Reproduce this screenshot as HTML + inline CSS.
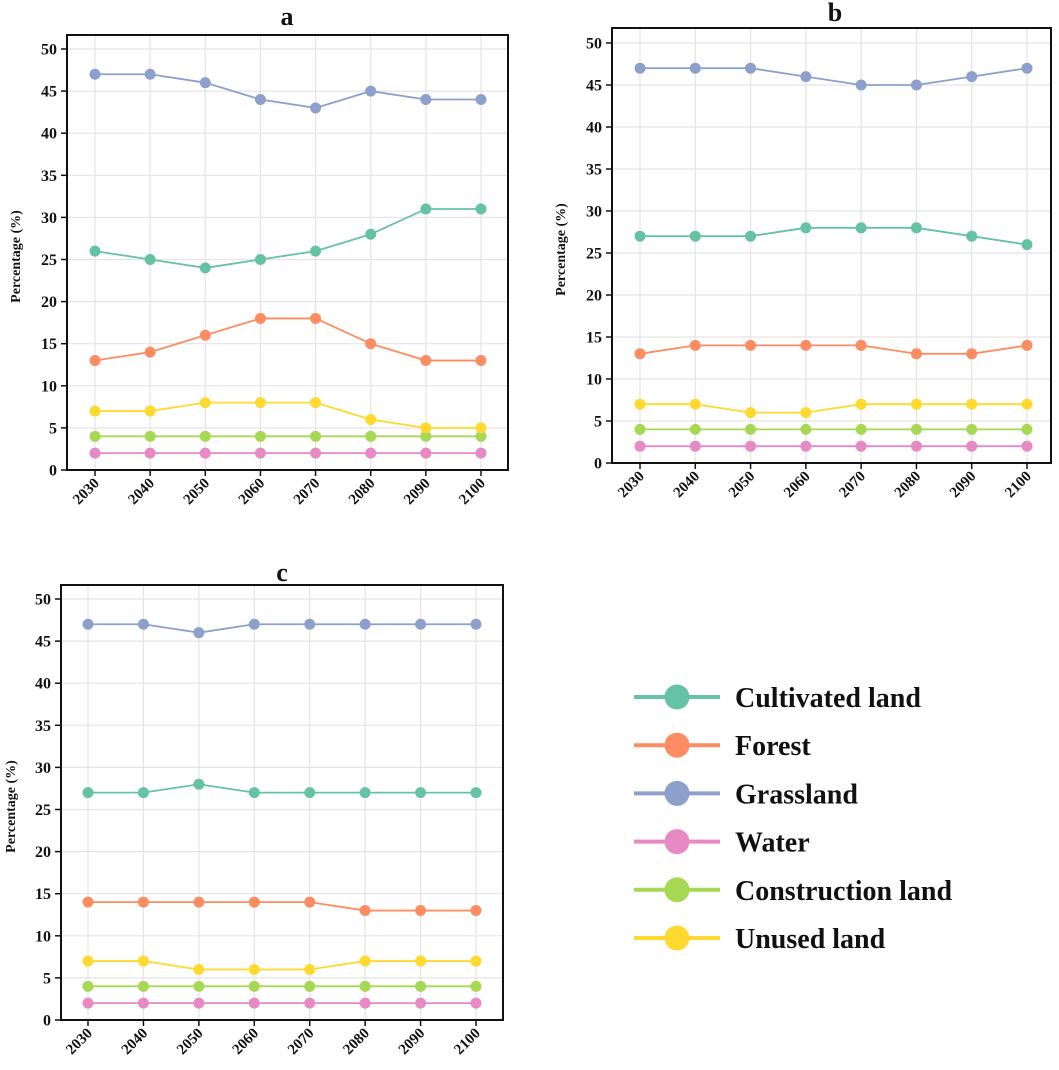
<!DOCTYPE html>
<html><head><meta charset="utf-8"><style>
html,body{margin:0;padding:0;background:#fff;}
svg{display:block;font-family:"Liberation Serif",serif;}
</style></head><body>
<svg id="chart" width="1059" height="1070" viewBox="0 0 1059 1070" xmlns="http://www.w3.org/2000/svg"></svg>
<script>
const years = [2030,2040,2050,2060,2070,2080,2090,2100];
const yTicks = [0,5,10,15,20,25,30,35,40,45,50];
const seriesNames = ["Cultivated land","Forest","Grassland","Water","Construction land","Unused land"];
const seriesColors = ["#66c2a5","#fc8d62","#8da0cb","#e78ac3","#a6d854","#ffd92f"];
const aCultivated = [26,25,24,25,26,28,31,31];
const aForest = [13,14,16,18,18,15,13,13];
const aGrassland = [47,47,46,44,43,45,44,44];
const aWater = [2,2,2,2,2,2,2,2];
const aConstruction = [4,4,4,4,4,4,4,4];
const aUnused = [7,7,8,8,8,6,5,5];
const bCultivated = [27,27,27,28,28,28,27,26];
const bForest = [13,14,14,14,14,13,13,14];
const bGrassland = [47,47,47,46,45,45,46,47];
const bWater = [2,2,2,2,2,2,2,2];
const bConstruction = [4,4,4,4,4,4,4,4];
const bUnused = [7,7,6,6,7,7,7,7];
const cCultivated = [27,27,28,27,27,27,27,27];
const cForest = [14,14,14,14,14,13,13,13];
const cGrassland = [47,47,46,47,47,47,47,47];
const cWater = [2,2,2,2,2,2,2,2];
const cConstruction = [4,4,4,4,4,4,4,4];
const cUnused = [7,7,6,6,6,7,7,7];

const NS="http://www.w3.org/2000/svg";
const svg=document.getElementById('chart');
function mk(tag,attrs,parent){const e=document.createElementNS(NS,tag);for(const k in attrs)e.setAttribute(k,attrs[k]);(parent||svg).appendChild(e);return e;}

const panels=[
 {id:'a',L:67,T:35,R:508,B:470,x0:95,x7:481,y50:49,tx:287,ty:25,yt:16,data:[aCultivated,aForest,aGrassland,aWater,aConstruction,aUnused]},
 {id:'b',L:612,T:28,R:1051,B:463,x0:640,x7:1027,y50:43,tx:835,ty:21,yt:561,data:[bCultivated,bForest,bGrassland,bWater,bConstruction,bUnused]},
 {id:'c',L:61,T:585,R:503,B:1020,x0:88,x7:476,y50:599,tx:282,ty:581,yt:11,data:[cCultivated,cForest,cGrassland,cWater,cConstruction,cUnused]}
];

panels.forEach(p=>{
 const g=mk('g',{});
 
 
 const xS=i=>p.x0+(p.x7-p.x0)*i/(years.length-1);
 const yS=v=>p.B-(p.B-p.y50)*v/50;
 yTicks.forEach(t=>{const l=mk('line',{x1:p.L,x2:p.R,y1:yS(t),y2:yS(t),stroke:'#e4e4e4','stroke-width':1.2},g);});
 years.forEach((y,i)=>{const l=mk('line',{x1:xS(i),x2:xS(i),y1:p.T,y2:p.B,stroke:'#e4e4e4','stroke-width':1.2},g);});
 p.data.forEach((arr,si)=>{
  const pts=arr.map((v,i)=>xS(i)+','+yS(v)).join(' ');
  const pl=mk('polyline',{points:pts,fill:'none',stroke:seriesColors[si],'stroke-width':1.8},g);
  
  
  arr.forEach((v,i)=>{const c=mk('circle',{cx:xS(i),cy:yS(v),r:5.5,fill:seriesColors[si]},g);});
 });
 const fr=mk('rect',{x:p.L,y:p.T,width:p.R-p.L,height:p.B-p.T,fill:'none',stroke:'#111','stroke-width':2},g);
 
 yTicks.forEach(t=>{
  mk('line',{x1:p.L-6,x2:p.L,y1:yS(t),y2:yS(t),stroke:'#111','stroke-width':1.5},g);
  const tx=mk('text',{x:p.L-10,y:yS(t)+5.5,'text-anchor':'end','font-size':16,'font-weight':'bold',fill:'#111'},g);
  tx.textContent=t;
 });
 years.forEach((y,i)=>{
  const x=xS(i);
  mk('line',{x1:x,x2:x,y1:p.B,y2:p.B+6,stroke:'#111','stroke-width':1.5},g);
  const tx=mk('text',{x:x+5,y:p.B+14,'text-anchor':'end','font-size':15,'font-weight':'bold',fill:'#111',transform:`rotate(-45 ${x+5} ${p.B+14})`},g);
  tx.textContent=y;
 });
 const cy=(p.T+p.B)/2;
 const yt=mk('text',{x:p.yt,y:cy,'text-anchor':'middle','font-size':14,'font-weight':'bold',fill:'#111',transform:`rotate(-90 ${p.yt+4} ${cy})`},g);
 yt.textContent='Percentage (%)';
 const ti=mk('text',{x:p.tx,y:p.ty,'text-anchor':'middle','font-size':26,'font-weight':'bold',fill:'#111'},g);
 ti.textContent=p.id;
});

const lg=mk('g',{});


seriesNames.forEach((n,i)=>{
 const y=697+48.2*i;
 const e=mk('g',{},lg);
 
 
 mk('line',{x1:634,x2:720,y1:y,y2:y,stroke:seriesColors[i],'stroke-width':4},e);
 mk('circle',{cx:677,cy:y,r:12.5,fill:seriesColors[i]},e);
 const t=mk('text',{x:735,y:y+10,'font-size':28,'font-weight':'bold',fill:'#111'},e);
 t.textContent=n;
});
</script>
</body></html>
